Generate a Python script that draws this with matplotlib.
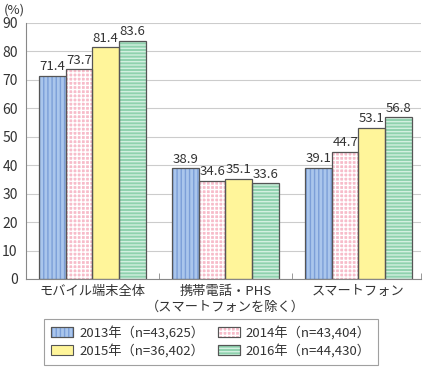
import matplotlib
matplotlib.use("Agg")
import matplotlib.pyplot as plt
import numpy as np
from matplotlib.patches import Patch

plt.rcParams['font.family'] = ['Noto Sans CJK JP', 'DejaVu Sans']

categories = ["モバイル端末全体", "携帯電話・PHS\n（スマートフォンを除く）", "スマートフォン"]
series_labels = ["2013年（n=43,625）", "2014年（n=43,404）", "2015年（n=36,402）", "2016年（n=44,430）"]
values_2013 = [71.4, 38.9, 39.1]
values_2014 = [73.7, 34.6, 44.7]
values_2015 = [81.4, 35.1, 53.1]
values_2016 = [83.6, 33.6, 56.8]
series_values = [values_2013, values_2014, values_2015, values_2016]

face_colors = ["#AAC6EC", "#F7BCCA", "#FFF59A", "#8FD2AE"]
hatch_colors = ["#7C9FD8", "#FFFFFF", None, "#D2F0E0"]
hatches = ["||||", "++++", None, "-----"]
text_color = "#333333"
plt.rcParams['hatch.linewidth'] = 1.0

fig = plt.figure(figsize=(4.26, 3.68), dpi=100)
ax = fig.add_axes([26/426, 1-279/368, 395/426, 256/368])

x = np.arange(len(categories))
width = 0.2
for i, vals in enumerate(series_values):
    pos = x + (i - 1.5) * width
    ax.bar(pos, vals, width, color=face_colors[i], edgecolor='none', zorder=2)
    if hatches[i]:
        ax.bar(pos, vals, width, facecolor='none', edgecolor=hatch_colors[i],
               hatch=hatches[i], linewidth=0, zorder=3)
    ax.bar(pos, vals, width, facecolor='none', edgecolor='#555555', linewidth=0.9, zorder=4)
    for p, v in zip(pos, vals):
        ax.text(p, v + 1.0, f"{v:.1f}", ha='center', va='bottom', fontsize=9.5, color=text_color)

ax.set_xlim(-0.5, 2.47)
ax.set_ylim(0, 90)
ax.set_yticks(range(0, 91, 10))
ax.yaxis.grid(True, color='#CCCCCC', linewidth=0.8, zorder=0)
ax.set_axisbelow(True)
ax.tick_params(axis='y', length=0, labelsize=10, colors=text_color, pad=6)
ax.set_xticks(x)
ax.set_xticklabels(categories, fontsize=9.5, color=text_color, linespacing=1.3)
ax.tick_params(axis='x', which='major', length=0, pad=4)
ax.set_xticks([0.5, 1.5, 2.47], minor=True)
ax.tick_params(axis='x', which='minor', direction='in', length=4, color='#888888')
for s in ['top', 'right']:
    ax.spines[s].set_visible(False)
ax.spines['left'].set_color('#888888')
ax.spines['bottom'].set_color('#888888')

fig.text(4/426, 1-10/368, "(%)", fontsize=9.5, color=text_color, va='center', ha='left')

# Legend (row-major order: 2013, 2014 / 2015, 2016)
order = [0, 2, 1, 3]
legend_handles = [Patch(facecolor=face_colors[i], edgecolor='#555555', linewidth=0.8) for i in order]
legend_labels = [series_labels[i] for i in order]
leg = fig.legend(handles=legend_handles, labels=legend_labels, ncol=2,
                 loc='center', bbox_to_anchor=(211/426, 1-342/368),
                 frameon=True, fancybox=False, edgecolor='#888888', fontsize=9.5,
                 handlelength=1.7, handleheight=0.8, columnspacing=1.0, handletextpad=0.45,
                 labelspacing=0.3, borderpad=0.5, borderaxespad=0, labelcolor=text_color)
leg.get_frame().set_linewidth(0.8)

fig.canvas.draw()
inv = fig.transFigure.inverted()
for k, h in enumerate(leg.legend_handles):
    i = order[k]
    if hatches[i]:
        bb = h.get_window_extent()
        (x0, y0), (x1, y1) = inv.transform([[bb.x0, bb.y0], [bb.x1, bb.y1]])
        r = plt.Rectangle((x0, y0), x1 - x0, y1 - y0, transform=fig.transFigure,
                          facecolor='none', edgecolor=hatch_colors[i], hatch=hatches[i],
                          linewidth=0, zorder=10)
        fig.add_artist(r)
        r2 = plt.Rectangle((x0, y0), x1 - x0, y1 - y0, transform=fig.transFigure,
                           facecolor='none', edgecolor='#555555', linewidth=0.8, zorder=11)
        fig.add_artist(r2)

fig.savefig("out.png", dpi=100)
